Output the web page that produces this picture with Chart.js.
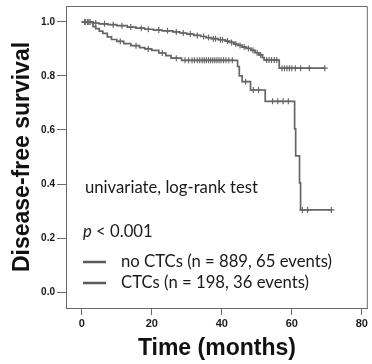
<!DOCTYPE html>
<html><head><meta charset="utf-8">
<script src="https://cdn.jsdelivr.net/npm/chart.js@4"></script>
<style>html,body{margin:0;padding:0;background:#fff;overflow:hidden}#wrap{width:372px;height:364px}</style>
</head><body><div id="wrap"><canvas id="c" width="372" height="364"></canvas></div>
<script>
// Kaplan-Meier table, no CTCs group (time in months, survival, censored flag)
const noCtcTime = [0,0.8,1.6,2.4,3.0,4.0,5.0,6.5,7.5,9.0,10.0,11.5,13.0,14.0,15.5,17.0,18.0,19.0,20.5,22.0,23.0,24.5,26.0,27.0,28.0,29.0,30.0,31.0,32.0,33.0,34.0,34.8,35.5,36.2,37.0,37.6,38.2,39.0,39.6,40.2,41.0,41.6,42.2,42.8,43.5,44.0,44.6,45.2,45.8,46.4,47.0,47.6,48.3,48.9,49.5,50.1,50.6,51.1,51.6,52.1,52.8,53.5,54.2,55.0,55.7,56.4,57.2,57.9,58.6,59.3,60.0,61.0,62.5,65.0,69.4];
const noCtcSurv = [1.000,1.000,1.000,1.000,0.996,0.996,0.993,0.993,0.990,0.990,0.986,0.986,0.981,0.981,0.977,0.977,0.973,0.973,0.970,0.970,0.967,0.967,0.963,0.963,0.959,0.959,0.955,0.955,0.950,0.950,0.946,0.946,0.942,0.942,0.938,0.938,0.938,0.934,0.934,0.934,0.929,0.929,0.924,0.924,0.918,0.918,0.913,0.913,0.907,0.907,0.902,0.902,0.895,0.895,0.886,0.886,0.878,0.878,0.868,0.859,0.859,0.859,0.859,0.859,0.859,0.829,0.829,0.829,0.829,0.829,0.829,0.829,0.829,0.829,0.829];
const noCtcCensored = [0,1,1,1,0,1,0,1,0,1,0,1,0,1,0,1,0,1,0,1,0,1,0,1,0,1,0,1,0,1,0,1,0,1,0,1,1,0,1,1,0,1,0,1,0,1,0,1,0,1,0,1,0,1,0,1,0,1,0,0,1,1,1,1,1,0,1,1,1,1,1,1,1,1,1];

// Kaplan-Meier table, CTCs group
const ctcTime = [0,1.0,2.0,3.2,4.0,5.0,6.0,7.3,8.5,10.0,11.0,12.0,14.0,15.5,16.5,18.0,19.0,20.0,22.0,23.0,24.0,25.5,27.0,28.5,29.5,30.5,31.5,32.2,33.0,33.7,34.4,35.0,35.6,36.2,36.8,37.4,38.0,38.6,39.2,39.8,40.5,41.2,42.0,43.0,44.5,45.0,45.8,46.8,48.2,49.0,50.5,52.4,54.5,56.0,57.5,59.0,60.8,61.1,62.2,62.5,63.0,64.5,71.3];
const ctcSurv = [1.000,1.000,1.000,0.983,0.975,0.966,0.958,0.945,0.935,0.928,0.928,0.920,0.912,0.912,0.905,0.900,0.900,0.895,0.885,0.885,0.875,0.866,0.866,0.858,0.858,0.858,0.858,0.858,0.858,0.858,0.858,0.858,0.858,0.858,0.858,0.858,0.858,0.858,0.858,0.858,0.858,0.858,0.858,0.858,0.835,0.800,0.779,0.779,0.748,0.748,0.748,0.706,0.706,0.706,0.706,0.706,0.604,0.504,0.404,0.304,0.304,0.304,0.304];
const ctcCensored = [0,1,1,0,0,0,0,0,0,0,1,0,0,1,0,0,1,0,0,1,0,0,1,0,1,1,1,1,1,1,1,1,1,1,1,1,1,1,1,1,1,1,1,1,0,0,0,1,0,1,1,0,1,1,1,1,0,0,0,0,1,1,1];

const xTickValues = [0,20,40,60,80];
const yTickValues = [0.0,0.2,0.4,0.6,0.8,1.0];
const seriesLabels = ['no CTCs (n = 889, 65 events)','CTCs (n = 198, 36 events)'];
const testLabel = 'univariate, log-rank test';
const pLabelItalic = 'p';
const pLabelRest = ' < 0.001';
const xTitle = 'Time (months)';
const yTitle = 'Disease-free survival';

const LINE = '#666666';
const AX = '#6a6a6a';
const TXT = '#1a1a1a';

function toPts(t, s){ return t.map((v,i)=>({x:v,y:s[i]})); }

function fitSize(ctx, text, family, style, target){
  ctx.font = style + ' 20px ' + family;
  const w = ctx.measureText(text).width;
  return 20*target/w;
}

const overlay = {
  id:'overlay',
  afterDraw(chart){
    const ctx = chart.ctx, a = chart.chartArea;
    ctx.save();
    ctx.strokeStyle = AX; ctx.lineWidth = 1;
    ctx.beginPath();
    ctx.moveTo(a.left, a.top+0.5); ctx.lineTo(a.right-0.5, a.top+0.5); ctx.lineTo(a.right-0.5, a.bottom);
    ctx.stroke();
    const fam = 'Lato, "Open Sans", sans-serif';
    const sz = fitSize(ctx, testLabel, fam, 'normal', 173);
    ctx.fillStyle = TXT;
    ctx.textBaseline = 'middle';
    ctx.textAlign = 'left';
    ctx.font = sz.toFixed(2)+'px ' + fam;
    ctx.fillText(testLabel, a.left+19, a.top+182);
    ctx.font = 'italic ' + sz.toFixed(2)+'px ' + fam;
    ctx.fillText(pLabelItalic, a.left+17, a.top+226);
    const pw = ctx.measureText(pLabelItalic).width;
    ctx.font = sz.toFixed(2)+'px ' + fam;
    ctx.fillText(pLabelRest, a.left+17+pw, a.top+226);
    const ys = [a.top+256, a.top+277];
    seriesLabels.forEach((lab,i)=>{
      ctx.strokeStyle = '#5a5a5a'; ctx.lineWidth = 2.5;
      ctx.beginPath(); ctx.moveTo(a.left+17, ys[i]); ctx.lineTo(a.left+40, ys[i]); ctx.stroke();
      ctx.fillStyle = TXT;
      ctx.fillText(lab, a.left+55, ys[i]);
    });
    ctx.restore();
  }
};

const ds = (label, t, s, c) => ({
  label, data: toPts(t,s), borderColor: LINE, backgroundColor: LINE,
  borderWidth: 1.7, stepped: 'before', fill:false, tension:0,
  pointStyle:'cross', pointBorderColor: LINE, pointBorderWidth:1.2,
  pointRadius: ctx => c[ctx.dataIndex] ? 3 : 0, pointHoverRadius:0, pointHitRadius:0
});

new Chart(document.getElementById('c'), {
  type:'line',
  data:{ datasets:[ ds(seriesLabels[0], noCtcTime, noCtcSurv, noCtcCensored), ds(seriesLabels[1], ctcTime, ctcSurv, ctcCensored) ] },
  options:{
    responsive:false, animation:false, devicePixelRatio:1,
    layout:{ padding:{ top:6, right:0, left:0, bottom:0 } },
    plugins:{ legend:{display:false}, tooltip:{enabled:false} },
    scales:{
      x:{
        type:'linear', min:-4.5, max:81.7,
        afterBuildTicks: s => { s.ticks = xTickValues.map(v=>({value:v})); },
        afterFit: s => { s.height = 56; s.paddingLeft = 0; s.paddingRight = 0; },
        ticks:{ font:{family:'"Liberation Sans", Arial, sans-serif', weight:'bold', size:11}, color:TXT, padding:2, maxRotation:0, autoSkip:false, callback:v=>String(v) },
        grid:{ drawOnChartArea:false, tickLength:7, color:AX, tickWidth:1 },
        border:{ display:true, color:AX, width:1 },
        title:{ display:true, text:xTitle, color:'#111', font:{family:'"Liberation Sans", Arial, sans-serif', weight:'bold', size:23, lineHeight:1.2}, padding:{top:0,bottom:2} }
      },
      y:{
        type:'linear', min:-0.059, max:1.059,
        afterBuildTicks: s => { s.ticks = yTickValues.map(v=>({value:v})); },
        afterFit: s => { s.width = 66; s.paddingTop = 0; s.paddingBottom = 0; },
        ticks:{ font:{family:'"Liberation Sans", Arial, sans-serif', weight:'bold', size:10}, color:TXT, padding:2, autoSkip:false, callback:v=>Number(v).toFixed(1) },
        grid:{ drawOnChartArea:false, tickLength:9, color:AX, tickWidth:1 },
        border:{ display:true, color:AX, width:1 },
        title:{ display:true, text:yTitle, color:'#111', font:{family:'"Liberation Sans", Arial, sans-serif', weight:'bold', size:23, lineHeight:1.2}, padding:{top:9,bottom:0} }
      }
    }
  },
  plugins:[overlay]
});
</script></body></html>
